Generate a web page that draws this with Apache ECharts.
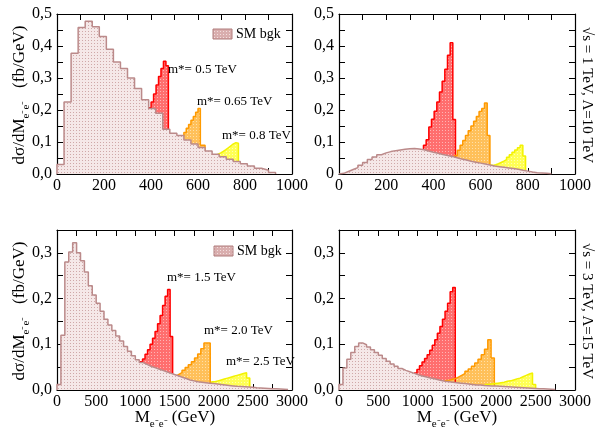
<!DOCTYPE html>
<html>
<head>
<meta charset="utf-8">
<script src="https://cdn.jsdelivr.net/npm/echarts@6/dist/echarts.min.js"></script>
<style>
  html, body { margin: 0; padding: 0; background: #fff; }
  #chart { width: 597px; height: 430px; }
</style>
</head>
<body>
<div id="chart"></div>
<script>
// histograms: [first bin edge, bin width, heights]
// sqrt(s) = 1 TeV, Lambda = 10 TeV, left panel
const bgk1 = [0, 30, [0.03, 0.225, 0.377, 0.458, 0.477, 0.46, 0.43, 0.39, 0.35, 0.33, 0.3, 0.267, 0.232, 0.205, 0.19, 0.14, 0.127, 0.12, 0.106, 0.094, 0.083, 0.072, 0.062, 0.054, 0.046, 0.039, 0.032, 0.025, 0.018, 0.012, 0.005]];
const sig1a = [390, 10.5, [0.207, 0.225, 0.25, 0.278, 0.305, 0.33, 0.352, 0.338]];
const sig1b = [530, 10, [0.117, 0.13, 0.143, 0.155, 0.168, 0.18, 0.193, 0.205, 0.09, 0.09]];
const sig1c = [665, 10.7, [0.058, 0.062, 0.066, 0.071, 0.076, 0.082, 0.088, 0.094, 0.098, 0.096]];

// sqrt(s) = 1 TeV, right panel
const bgk2 = [0, 20, [0.002, 0.008, 0.014, 0.02, 0.027, 0.036, 0.045, 0.053, 0.06, 0.066, 0.07, 0.073, 0.075, 0.077, 0.079, 0.08, 0.078, 0.076, 0.072, 0.068, 0.065, 0.061, 0.058, 0.055, 0.051, 0.047, 0.044, 0.04, 0.037, 0.034, 0.031, 0.028, 0.025, 0.023, 0.021, 0.019, 0.017, 0.015, 0.012, 0.009, 0.006, 0.004, 0.003, 0.002, 0.001]];
const sig2a = [358, 11.3, [0.09, 0.107, 0.147, 0.171, 0.196, 0.225, 0.256, 0.29, 0.327, 0.371, 0.41, 0.17]];
const sig2b = [490, 11.5, [0.058, 0.074, 0.09, 0.105, 0.12, 0.135, 0.15, 0.165, 0.18, 0.195, 0.205, 0.222, 0.12]];
const sig2c = [641, 11.5, [0.027, 0.029, 0.032, 0.036, 0.04, 0.045, 0.052, 0.06, 0.068, 0.075, 0.082, 0.09, 0.056]];

// sqrt(s) = 3 TeV, left panel
const bgk3 = [0, 50, [0.012, 0.12, 0.28, 0.302, 0.322, 0.3, 0.283, 0.258, 0.228, 0.208, 0.19, 0.172, 0.155, 0.142, 0.13, 0.118, 0.107, 0.095, 0.085, 0.075, 0.066, 0.06, 0.056, 0.052, 0.049, 0.046, 0.043, 0.04, 0.037, 0.034, 0.031, 0.028, 0.025, 0.022, 0.02, 0.018, 0.017, 0.016, 0.015, 0.014, 0.013, 0.012, 0.011, 0.01, 0.009, 0.008, 0.0075, 0.007, 0.0065, 0.006, 0.005, 0.0045, 0.004, 0.0035, 0.003, 0.0025, 0.002, 0.0015, 0.001]];
const sig3a = [1060, 32, [0.062, 0.068, 0.078, 0.088, 0.1, 0.113, 0.128, 0.145, 0.163, 0.185, 0.205, 0.22, 0.117]];
const sig3b = [1476, 40, [0.03, 0.034, 0.038, 0.043, 0.049, 0.055, 0.062, 0.07, 0.079, 0.09, 0.103, 0.103]];
const sig3c = [1975, 40.5, [0.018, 0.02, 0.022, 0.024, 0.026, 0.028, 0.03, 0.032, 0.034, 0.036, 0.038, 0.026]];

// sqrt(s) = 3 TeV, right panel
const bgk4 = [0, 50, [0.012, 0.048, 0.067, 0.082, 0.095, 0.103, 0.099, 0.094, 0.088, 0.082, 0.076, 0.069, 0.063, 0.057, 0.052, 0.047, 0.043, 0.04, 0.037, 0.034, 0.031, 0.029, 0.027, 0.025, 0.023, 0.021, 0.019, 0.018, 0.017, 0.016, 0.015, 0.014, 0.013, 0.012, 0.011, 0.011, 0.01, 0.0095, 0.009, 0.0085, 0.008, 0.0075, 0.007, 0.0065, 0.006, 0.0055, 0.005, 0.0045, 0.004, 0.0035, 0.003, 0.0025, 0.002, 0.0015, 0.001]];
const sig4a = [958, 32.5, [0.037, 0.045, 0.053, 0.061, 0.069, 0.077, 0.087, 0.098, 0.11, 0.124, 0.139, 0.155, 0.172, 0.19, 0.215, 0.224]];
const sig4b = [1352, 41.5, [0.021, 0.023, 0.025, 0.028, 0.032, 0.036, 0.041, 0.046, 0.052, 0.059, 0.067, 0.077, 0.089, 0.11, 0.07]];
const sig4c = [1860, 40, [0.012, 0.013, 0.014, 0.015, 0.016, 0.017, 0.019, 0.02, 0.022, 0.024, 0.026, 0.029, 0.032, 0.035, 0.037, 0.012]];

const sigLabelsTop = ['m*= 0.5 TeV', 'm*= 0.65 TeV', 'm*= 0.8 TeV'];
const sigLabelsBottom = ['m*= 1.5 TeV', 'm*= 2.0 TeV', 'm*= 2.5 TeV'];
const sideLabels = ['√s = 1 TeV, Λ=10 TeV', '√s = 3 TeV, Λ=15 TeV'];

const FONT = '"Liberation Serif", "Times New Roman", serif';

// small dotted fill, like the stippled areas of the original plot
function pattern(bg, dot) {
  const c = document.createElement('canvas');
  c.width = 3; c.height = 3;
  const ctx = c.getContext('2d');
  ctx.fillStyle = bg;
  ctx.fillRect(0, 0, 3, 3);
  ctx.fillStyle = dot;
  ctx.fillRect(1, 1, 1, 1);
  return { image: c, repeat: 'repeat' };
}

const fills = {
  bgk: pattern('#f5e8e8', '#cfa8a8'),
  red: pattern('#ff6e6e', '#ffb4b4'),
  orange: pattern('#ffc05a', '#ffe0a8'),
  yellow: pattern('#ffff55', '#ffffb0'),
  legend: pattern('#d9aeae', '#f2dede')
};
const lines = { bgk: '#bb8a8a', red: '#ff0000', orange: '#ff9a00', yellow: '#f2f200' };

// step outline of a histogram
function hist(h) {
  const [lo, w, vals] = h;
  const pts = [[lo, 0]];
  vals.forEach((v, i) => pts.push([lo + i * w, v]));
  const end = lo + vals.length * w;
  pts.push([end, vals[vals.length - 1]]);
  pts.push([end, 0]);
  return pts;
}

function series(h, g, kind, z) {
  return {
    type: 'line', step: 'end', data: hist(h),
    xAxisIndex: g * 2, yAxisIndex: g * 2,
    symbol: 'none', z: z, animation: false, silent: true,
    lineStyle: { color: lines[kind], width: 1.5 },
    areaStyle: { color: fills[kind], opacity: 1 }
  };
}

const grids = [
  { left: 57, top: 14, width: 235, height: 160 },
  { left: 339, top: 14, width: 236, height: 160 },
  { left: 57, top: 230, width: 235, height: 160 },
  { left: 339, top: 230, width: 236, height: 160 }
];

const onTick = (v, step) => Math.abs(v / step - Math.round(v / step)) < 1e-6;

function xAxes(g, max, interval, labelStep) {
  const base = {
    gridIndex: g, type: 'value', min: 0, max: max, interval: interval,
    axisLine: { show: true, onZero: false, lineStyle: { color: '#000', width: 1.2 } },
    axisTick: { show: true, inside: true, length: 6, lineStyle: { color: '#000', width: 1 } },
    splitLine: { show: false }
  };
  return [
    Object.assign({}, base, {
      position: 'bottom',
      axisLabel: {
        show: true, margin: 4, color: '#000', fontFamily: FONT, fontSize: 16,
        formatter: v => onTick(v, labelStep) ? String(v) : ''
      }
    }),
    Object.assign({}, base, { position: 'top', axisLabel: { show: false } })
  ];
}

function yAxes(g, max, zeroText) {
  const base = {
    gridIndex: g, type: 'value', min: 0, max: max, interval: 0.05,
    axisLine: { show: true, onZero: false, lineStyle: { color: '#000', width: 1.2 } },
    axisTick: { show: true, inside: true, length: 6, lineStyle: { color: '#000', width: 1 } },
    splitLine: { show: false }
  };
  return [
    Object.assign({}, base, {
      position: 'left',
      axisLabel: {
        show: true, margin: 5, color: '#000', fontFamily: FONT, fontSize: 16,
        formatter: v => {
          if (!onTick(v, 0.1) || v > max - 1e-9 && !onTick(max, 0.1)) return '';
          if (Math.abs(v) < 1e-9) return zeroText;
          return v.toFixed(1).replace('.', ',');
        }
      }
    }),
    Object.assign({}, base, { position: 'right', axisLabel: { show: false } })
  ];
}

const rich = {
  m: { fontFamily: FONT, fontSize: 17, color: '#000', lineHeight: 24, verticalAlign: 'middle' },
  s: { fontFamily: FONT, fontSize: 11, color: '#000', lineHeight: 24, verticalAlign: 'bottom' }
};

function label(x, y, text, size) {
  return {
    type: 'text', x: x, y: y, silent: true, z: 20,
    style: { text: text, fontFamily: FONT, fontSize: size || 13, fill: '#000', align: 'left', verticalAlign: 'middle' }
  };
}

const graphic = [
  // y axis titles
  { type: 'text', x: 20, y: 95, rotation: Math.PI / 2, silent: true,
    style: { text: '{m|dσ/dM}{s|e⁻e⁻}{m|   (fb/GeV)}', rich: rich, align: 'center', verticalAlign: 'middle' } },
  { type: 'text', x: 20, y: 311, rotation: Math.PI / 2, silent: true,
    style: { text: '{m|dσ/dM}{s|e⁻e⁻}{m|   (fb/GeV)}', rich: rich, align: 'center', verticalAlign: 'middle' } },
  // x axis titles
  { type: 'text', x: 175, y: 418, silent: true,
    style: { text: '{m|M}{s|e⁻e⁻}{m| (GeV)}', rich: rich, align: 'center', verticalAlign: 'middle' } },
  { type: 'text', x: 457, y: 418, silent: true,
    style: { text: '{m|M}{s|e⁻e⁻}{m| (GeV)}', rich: rich, align: 'center', verticalAlign: 'middle' } },
  // right side labels
  { type: 'text', x: 587, y: 95, rotation: -Math.PI / 2, silent: true,
    style: { text: sideLabels[0], fontFamily: FONT, fontSize: 15, fill: '#000', align: 'center', verticalAlign: 'middle' } },
  { type: 'text', x: 587, y: 311, rotation: -Math.PI / 2, silent: true,
    style: { text: sideLabels[1], fontFamily: FONT, fontSize: 15, fill: '#000', align: 'center', verticalAlign: 'middle' } },
  // legends
  { type: 'rect', shape: { x: 213, y: 29, width: 19, height: 10 }, z: 20, silent: true,
    style: { fill: fills.legend, stroke: '#b07c7c', lineWidth: 1 } },
  label(236, 34, 'SM bgk', 14),
  { type: 'rect', shape: { x: 214, y: 246, width: 19, height: 10 }, z: 20, silent: true,
    style: { fill: fills.legend, stroke: '#b07c7c', lineWidth: 1 } },
  label(237, 251, 'SM bgk', 14),
  // signal labels
  label(168, 70, sigLabelsTop[0]),
  label(197, 102, sigLabelsTop[1]),
  label(222, 136, sigLabelsTop[2]),
  label(167, 278, sigLabelsBottom[0]),
  label(204, 331, sigLabelsBottom[1]),
  label(226, 362, sigLabelsBottom[2])
];

const chart = echarts.init(document.getElementById('chart'), null, { renderer: 'canvas' });

chart.setOption({
  animation: false,
  backgroundColor: '#fff',
  grid: grids,
  xAxis: [].concat(xAxes(0, 1000, 100, 200), xAxes(1, 1000, 100, 200), xAxes(2, 3000, 250, 500), xAxes(3, 3000, 250, 500)),
  yAxis: [].concat(yAxes(0, 0.5, '0,0'), yAxes(1, 0.5, '0'), yAxes(2, 0.35, '0,0'), yAxes(3, 0.35, '0,0')),
  series: [
    series(sig1a, 0, 'red', 2), series(sig1b, 0, 'orange', 2), series(sig1c, 0, 'yellow', 2), series(bgk1, 0, 'bgk', 3),
    series(sig2a, 1, 'red', 2), series(sig2b, 1, 'orange', 2), series(sig2c, 1, 'yellow', 2), series(bgk2, 1, 'bgk', 3),
    series(sig3a, 2, 'red', 2), series(sig3b, 2, 'orange', 2), series(sig3c, 2, 'yellow', 2), series(bgk3, 2, 'bgk', 3),
    series(sig4a, 3, 'red', 2), series(sig4b, 3, 'orange', 2), series(sig4c, 3, 'yellow', 2), series(bgk4, 3, 'bgk', 3)
  ],
  graphic: graphic
});

window.addEventListener('resize', chart.resize);
</script>
</body>
</html>
